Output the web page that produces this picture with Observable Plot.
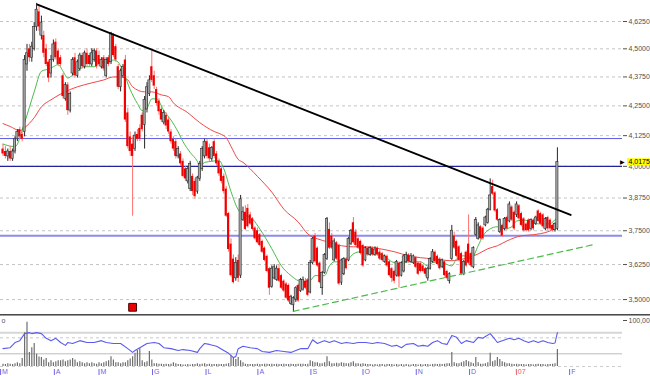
<!DOCTYPE html>
<html><head><meta charset="utf-8">
<script src="https://cdn.jsdelivr.net/npm/d3@7"></script>
<script src="https://cdn.jsdelivr.net/npm/@observablehq/plot@0.6"></script>
<style>
html,body{margin:0;padding:0;background:#fff;}
#chart{position:relative;width:650px;height:376px;overflow:hidden;font-family:"Liberation Sans",Arial,sans-serif;background:#fff;}
#chart svg{display:block;}
.sep{height:2px;width:650px;border-top:1px solid #4a4a4a;background:#9a9a9a;box-sizing:border-box;}
</style></head><body><div id="chart"></div><script>
// ---- daily candles (bar index 0..231) ----
const open = [4.07,4.06,4.04,4.06,4.03,4.06,4.11,4.15,4.13,4.14,
4.43,4.50,4.46,4.50,4.60,4.67,4.56,4.56,4.50,4.44,
4.39,4.45,4.53,4.49,4.46,4.38,4.28,4.34,4.23,4.39,
4.46,4.38,4.41,4.47,4.42,4.48,4.47,4.43,4.45,4.49,
4.47,4.42,4.46,4.38,4.46,4.44,4.56,4.51,4.42,4.33,
4.38,4.45,4.22,4.12,4.09,4.07,4.13,4.155,4.21,4.17,
4.235,4.30,4.42,4.38,4.32,4.27,4.235,4.18,4.21,4.19,
4.14,4.11,4.10,4.04,4.05,4.02,3.99,3.94,3.91,3.96,
3.94,3.90,3.95,3.99,4.04,4.10,4.075,4.03,4.10,4.05,
4.02,3.99,3.96,3.91,3.815,3.70,3.645,3.575,3.64,3.585,
3.79,3.82,3.835,3.81,3.795,3.76,3.75,3.735,3.71,3.685,
3.655,3.61,3.545,3.575,3.57,3.61,3.585,3.565,3.555,3.55,
3.485,3.48,3.50,3.55,3.53,3.535,3.565,3.57,3.525,3.63,
3.73,3.685,3.63,3.54,3.595,3.645,3.755,3.73,3.64,3.705,
3.695,3.56,3.59,3.645,3.64,3.70,3.78,3.745,3.72,3.71,
3.695,3.64,3.685,3.66,3.685,3.66,3.685,3.67,3.665,3.635,
3.655,3.635,3.61,3.60,3.585,3.63,3.585,3.60,3.635,3.66,
3.635,3.63,3.65,3.63,3.628,3.62,3.61,3.575,3.61,3.635,
3.67,3.655,3.645,3.617,3.635,3.60,3.565,3.645,3.73,3.71,
3.69,3.665,3.59,3.67,3.70,3.665,3.615,3.735,3.72,3.765,
3.76,3.77,3.78,3.83,3.92,3.895,3.83,3.745,3.77,3.757,
3.80,3.785,3.84,3.82,3.81,3.845,3.815,3.795,3.775,3.79,
3.757,3.79,3.775,3.825,3.815,3.81,3.757,3.80,3.79,3.77,
3.752,3.757];
const high = [4.09,4.08,4.07,4.08,4.07,4.12,4.15,4.16,4.14,4.47,
4.52,4.52,4.53,4.62,4.71,4.70,4.65,4.58,4.52,4.45,
4.47,4.54,4.545,4.50,4.47,4.39,4.35,4.35,4.31,4.46,
4.48,4.45,4.48,4.48,4.49,4.50,4.48,4.50,4.50,4.50,
4.49,4.46,4.47,4.46,4.47,4.575,4.57,4.52,4.43,4.41,
4.43,4.47,4.24,4.14,4.12,4.14,4.15,4.17,4.22,4.29,
4.35,4.38,4.49,4.40,4.33,4.28,4.25,4.23,4.22,4.20,
4.15,4.12,4.11,4.08,4.06,4.03,4.00,4.00,4.02,3.97,
3.95,3.96,4.02,4.08,4.11,4.11,4.09,4.08,4.11,4.06,
4.03,4.00,3.97,3.92,3.82,3.72,3.66,3.65,3.66,3.885,
3.84,3.845,3.85,3.82,3.80,3.765,3.76,3.74,3.715,3.69,
3.66,3.615,3.62,3.625,3.62,3.625,3.59,3.57,3.56,3.555,
3.515,3.51,3.545,3.555,3.575,3.58,3.575,3.575,3.64,3.725,
3.74,3.69,3.635,3.60,3.665,3.80,3.78,3.74,3.72,3.71,
3.70,3.645,3.65,3.65,3.725,3.755,3.80,3.755,3.725,3.715,
3.70,3.69,3.69,3.69,3.69,3.69,3.69,3.68,3.67,3.66,
3.66,3.64,3.615,3.605,3.64,3.635,3.635,3.66,3.67,3.665,
3.665,3.66,3.655,3.635,3.635,3.625,3.615,3.615,3.65,3.68,
3.675,3.66,3.65,3.645,3.64,3.605,3.595,3.77,3.745,3.715,
3.695,3.67,3.64,3.675,3.81,3.67,3.69,3.80,3.78,3.77,
3.765,3.805,3.835,3.95,3.945,3.90,3.835,3.795,3.775,3.80,
3.805,3.86,3.845,3.825,3.86,3.85,3.82,3.80,3.78,3.795,
3.795,3.795,3.805,3.83,3.82,3.815,3.80,3.805,3.795,3.775,
3.78,4.075];
const low = [4.04,4.03,4.02,4.02,4.02,4.05,4.10,4.11,4.10,4.12,
4.40,4.44,4.44,4.49,4.58,4.58,4.54,4.46,4.42,4.35,
4.37,4.44,4.45,4.42,4.42,4.28,4.27,4.21,4.22,4.38,
4.37,4.37,4.40,4.41,4.41,4.42,4.42,4.42,4.44,4.41,
4.42,4.41,4.40,4.37,4.42,4.43,4.46,4.44,4.32,4.31,
4.37,4.18,4.07,4.04,3.805,4.06,4.10,4.10,4.14,4.07,
4.22,4.29,4.35,4.32,4.25,4.21,4.18,4.17,4.15,4.13,
4.09,4.06,4.03,4.03,4.00,3.955,3.94,3.93,3.90,3.885,
3.87,3.89,3.94,3.98,4.03,4.03,4.02,4.02,4.03,4.00,
3.96,3.93,3.89,3.80,3.67,3.58,3.555,3.565,3.56,3.575,
3.785,3.75,3.76,3.77,3.75,3.715,3.70,3.69,3.665,3.635,
3.595,3.515,3.54,3.57,3.565,3.56,3.535,3.525,3.50,3.49,
3.48,3.455,3.49,3.49,3.525,3.53,3.535,3.51,3.52,3.625,
3.63,3.615,3.555,3.515,3.59,3.64,3.68,3.68,3.635,3.64,
3.55,3.55,3.585,3.605,3.635,3.695,3.70,3.69,3.68,3.66,
3.615,3.635,3.655,3.655,3.655,3.655,3.655,3.64,3.635,3.63,
3.615,3.58,3.56,3.556,3.58,3.54,3.58,3.595,3.63,3.63,
3.63,3.625,3.61,3.585,3.595,3.595,3.58,3.565,3.605,3.63,
3.63,3.62,3.605,3.61,3.58,3.57,3.555,3.64,3.68,3.65,
3.635,3.585,3.585,3.615,3.625,3.615,3.61,3.73,3.715,3.715,
3.715,3.765,3.775,3.825,3.885,3.82,3.785,3.74,3.725,3.75,
3.75,3.78,3.785,3.75,3.80,3.79,3.765,3.745,3.745,3.745,
3.75,3.75,3.77,3.78,3.77,3.76,3.75,3.75,3.75,3.745,
3.745,3.75];
const close = [4.05,4.04,4.06,4.03,4.06,4.11,4.14,4.12,4.11,4.45,
4.48,4.46,4.51,4.60,4.68,4.60,4.62,4.48,4.43,4.37,
4.45,4.52,4.46,4.43,4.43,4.29,4.34,4.23,4.30,4.45,
4.38,4.44,4.47,4.42,4.48,4.43,4.43,4.48,4.49,4.42,
4.43,4.45,4.41,4.45,4.43,4.57,4.47,4.45,4.33,4.40,
4.42,4.19,4.08,4.06,4.04,4.125,4.11,4.11,4.15,4.275,
4.33,4.36,4.36,4.335,4.26,4.225,4.19,4.22,4.165,4.14,
4.10,4.07,4.04,4.07,4.01,3.96,3.95,3.99,4.01,3.90,
3.88,3.955,4.01,4.07,4.10,4.04,4.03,4.075,4.04,4.01,
3.97,3.94,3.90,3.805,3.68,3.585,3.56,3.63,3.575,3.87,
3.82,3.755,3.765,3.775,3.755,3.72,3.705,3.695,3.67,3.64,
3.60,3.54,3.61,3.615,3.61,3.565,3.54,3.53,3.505,3.495,
3.51,3.505,3.54,3.495,3.57,3.57,3.54,3.515,3.63,3.72,
3.635,3.62,3.56,3.595,3.66,3.795,3.685,3.685,3.71,3.645,
3.555,3.64,3.645,3.61,3.72,3.75,3.705,3.695,3.685,3.665,
3.62,3.685,3.66,3.685,3.66,3.68,3.66,3.645,3.64,3.655,
3.62,3.585,3.575,3.565,3.635,3.58,3.63,3.655,3.66,3.635,
3.655,3.655,3.615,3.59,3.60,3.60,3.59,3.61,3.645,3.67,
3.635,3.625,3.61,3.64,3.585,3.575,3.59,3.75,3.685,3.655,
3.64,3.59,3.635,3.62,3.63,3.62,3.685,3.79,3.77,3.72,
3.72,3.80,3.83,3.885,3.89,3.825,3.79,3.79,3.73,3.795,
3.757,3.85,3.79,3.757,3.85,3.795,3.77,3.75,3.75,3.75,
3.79,3.757,3.80,3.785,3.775,3.765,3.795,3.757,3.757,3.752,
3.775,4.0175];
// volume (relative units, same panel scale as the oscillator)
const volume = [5,4,6,5,4,6,8,6,17,72,94,30,40,49,26,20,19,14,17,8,
12,8,10,12,12,14,10,12,14,17,14,8,10,8,6,8,6,8,6,5,
8,6,8,10,12,21,14,8,8,6,8,8,12,16,21,28,34,38,12,8,
10,32,14,6,6,5,5,4,5,4,5,8,6,4,4,3,3,4,3,4,
4,6,4,5,6,4,5,4,4,4,4,4,4,5,6,23,19,15,19,12,
8,5,4,4,4,4,5,4,4,5,5,4,5,4,5,4,4,5,4,4,
5,4,4,5,5,5,4,5,12,10,8,8,6,6,8,21,10,6,6,7,
6,8,7,6,6,8,10,6,6,5,6,5,4,4,3,4,3,4,4,3,
4,4,4,3,4,3,4,3,4,3,3,4,4,3,4,3,4,4,3,4,
5,4,5,4,5,6,6,30,8,6,6,8,10,13,10,8,6,19,8,5,
5,6,8,28,10,12,19,15,10,8,6,6,5,4,5,4,4,4,3,4,
4,3,4,5,4,4,3,4,4,5,6,36];
// moving averages (bar index, price)
const maFastIdx = [0,5,9,13,16,19,21,23,25,27,28,31,34,38,41,44,46,48,50,53,56,58,60,62,64,67,70,73,75,78,81,82,84,87,90,92,95,98,100,104,107,112,116,120,123,125,128,130,134,136,138,141,144,146,149,152,156,159,162,166,169,171,174,177,179,182,187,189,192,195,198,200,203,206,209,212,214,217,220,223,225,228,229,231];
const maFastVal = [4.09,4.08,4.18,4.31,4.40,4.41,4.42,4.43,4.40,4.37,4.375,4.40,4.42,4.42,4.44,4.44,4.45,4.44,4.40,4.32,4.26,4.23,4.24,4.28,4.28,4.23,4.19,4.14,4.10,4.056,4.02,4.00,4.016,4.02,4.024,3.99,3.90,3.83,3.813,3.794,3.757,3.683,3.62,3.585,3.567,3.563,3.567,3.585,3.585,3.62,3.635,3.635,3.646,3.664,3.672,3.664,3.664,3.657,3.635,3.628,3.635,3.635,3.635,3.62,3.632,3.635,3.62,3.646,3.657,3.646,3.694,3.731,3.757,3.765,3.757,3.765,3.787,3.79,3.783,3.776,3.776,3.776,3.783,3.80];
const maSlowIdx = [0,3,7,9,13,16,20,25,31,37,42,46,49,52,54,59,62,66,69,71,77,82,88,91,93,95,98,100,106,112,117,123,127,131,135,141,146,152,157,163,169,174,179,187,192,198,202,206,210,216,221,227,230];
const maSlowVal = [4.175,4.163,4.146,4.158,4.20,4.246,4.276,4.306,4.332,4.349,4.362,4.375,4.375,4.362,4.332,4.31,4.31,4.297,4.289,4.263,4.221,4.179,4.142,4.130,4.117,4.081,4.028,4.016,3.96,3.898,3.832,3.783,3.738,3.72,3.709,3.694,3.69,3.69,3.683,3.672,3.657,3.65,3.646,3.639,3.646,3.664,3.683,3.694,3.712,3.731,3.735,3.746,3.757];
// oscillator (bar index, 0-100)
const oscIdx = [0,3,5,7,9,11,12,14,16,18,20,22,24,26,27,29,32,35,38,41,43,46,49,52,54,55,57,60,63,65,67,70,73,75,78,81,82,84,86,89,92,94,96,97,98,100,103,106,108,111,114,117,120,122,124,127,129,131,133,134,136,138,141,143,146,148,151,154,156,159,162,164,166,168,171,173,175,177,179,181,183,185,187,189,191,193,196,198,200,201,203,204,206,208,211,213,215,217,219,221,223,225,227,229,230,231];
const oscVal = [38,40,51,55,70,72,70,72,70,60,55,60,51,45,51,49,55,51,51,55,51,49,49,38,30,34,40,49,51,49,40,38,34,36,34,30,38,49,47,43,34,28,19,21,38,43,40,38,32,30,34,32,30,34,38,38,57,49,53,55,51,55,49,51,49,51,51,49,51,49,43,45,40,47,49,43,45,43,51,55,49,47,66,62,49,55,51,62,60,64,70,64,51,55,60,57,60,55,51,55,51,55,51,49,50,72];
const oscLevels = [71.7, 61, 27];
// drawn lines: resistance trendline and support line (bar index, price)
const trendIdx = [14.4, 236.5], trendVal = [4.704, 3.81];
const supportIdx = [121.0, 246.0], supportVal = [3.459, 3.698];
// horizontal levels
const levels = [4.113, 4.0, 3.731];
const markerIdx = [54], markerVal = [3.473];
// axis
const yTicks = [3.5, 3.625, 3.75, 3.875, 4.0, 4.125, 4.25, 4.375, 4.5, 4.625];
const monthIdx = [-1, 21.4, 40, 62.3, 84.6, 106.2, 128.3, 150, 172.2, 194.4, 213.9, 236.1];
const monthLab = ["M","A","M","G","L","A","S","O","N","D","07","F"];

const FONT = '"Liberation Sans", Arial, sans-serif';
const xDomain = [-2.5/2.4, (622-2.5)/2.4];
const fmt = d => d.toFixed(4).replace(".", ",");
const bars = close.map((c, i) => ({i, o: open[i], h: high[i], l: low[i], c}));
const up = bars.filter(d => d.c >= d.o), down = bars.filter(d => d.c < d.o);
const last = bars[bars.length - 1];
const lastLabel = fmt(last.c);
const isYear = k => /^\d+$/.test(monthLab[k]);
const monthTicks = monthIdx.filter((d, k) => !isYear(k));
const yearTicks = monthIdx.filter((d, k) => isYear(k));
const labelOf = d => monthLab[monthIdx.indexOf(d)];

const price = Plot.plot({
  width: 650, height: 314, marginTop: 0, marginBottom: 0, marginLeft: 0, marginRight: 28,
  x: {domain: xDomain, axis: null},
  y: {type: "log", domain: [3.448, 4.7234], axis: null},
  style: {fontFamily: FONT, fontSize: "7px", background: "white", overflow: "visible"},
  marks: [
    Plot.ruleY(yTicks, {stroke: "#c4c4c4", strokeDasharray: "3,3"}),
    Plot.ruleY([levels[0]], {stroke: "#5c5ce0", strokeWidth: 1}),
    Plot.ruleY([levels[1]], {stroke: "#22229c", strokeWidth: 1.2}),
    Plot.ruleY([levels[2]], {stroke: "#8c8cf0", strokeWidth: 2}),
    Plot.line(maSlowVal, {x: maSlowIdx, y: maSlowVal, stroke: "#f04848", strokeWidth: 1, curve: "monotone-x"}),
    Plot.line(maFastVal, {x: maFastIdx, y: maFastVal, stroke: "#4cba4c", strokeWidth: 1, curve: "monotone-x"}),
    Plot.ruleX(down, {x: "i", y1: "l", y2: "h", stroke: "#ff7070", strokeWidth: 1}),
    Plot.ruleX(up, {x: "i", y1: "l", y2: "h", stroke: "#262626", strokeWidth: 1}),
    Plot.rect(down, {x1: d => d.i - 0.45, x2: d => d.i + 0.45, y1: "o", y2: "c", fill: "#f20000"}),
    Plot.rect(up, {x1: d => d.i - 0.45, x2: d => d.i + 0.45, y1: "o", y2: "c", fill: "#a8a8a8", stroke: "#2a2a2a", strokeWidth: 0.6}),
    Plot.line(supportVal, {x: supportIdx, y: supportVal, stroke: "#4cbb4c", strokeWidth: 1.2, strokeDasharray: "6,4"}),
    Plot.line(trendVal, {x: trendIdx, y: trendVal, stroke: "#000", strokeWidth: 2}),
    Plot.dot(markerVal, {x: markerIdx, y: markerVal, symbol: "square", r: 4.4, fill: "#ee0000", stroke: "#4a0000", strokeWidth: 1}),
    Plot.axisY(yTicks, {anchor: "right", tickFormat: fmt, tickSize: 4, tickPadding: 2, fontSize: 7, color: "#505050", label: null}),
    Plot.text([last], {y: "c", frameAnchor: "right", text: () => "\u25B6", dx: 0, fontSize: 6, fill: "#000", textAnchor: "middle"}),
    Plot.text([last], {y: "c", frameAnchor: "right", text: () => lastLabel, dx: 6, dy: 0, fontSize: 7, fill: "#000", textAnchor: "start"})
  ]
});

const lower = Plot.plot({
  width: 650, height: 60, marginTop: 3, marginBottom: 10, marginLeft: 0, marginRight: 28,
  x: {domain: xDomain, axis: null},
  y: {domain: [0, 100], axis: null},
  style: {fontFamily: FONT, fontSize: "7px", background: "white", overflow: "visible"},
  marks: [
    Plot.ruleY([oscLevels[0]], {stroke: "#d6d6d6", strokeWidth: 2}),
    Plot.ruleY([oscLevels[1]], {stroke: "#c8c8c8", strokeDasharray: "3,3"}),
    Plot.ruleY([oscLevels[2]], {stroke: "#bdbdbd"}),
    Plot.ruleY([0], {stroke: "#cccccc", strokeDasharray: "3,3"}),
    Plot.ruleX(volume, {x: (d, i) => i, y1: 0, y2: d => d, stroke: "#6e6e6e", strokeWidth: 1.2}),
    Plot.line(oscVal, {x: oscIdx, y: oscVal, stroke: "#5a5af0", strokeWidth: 1.1}),
    Plot.axisY([100], {anchor: "right", tickFormat: d => d.toFixed(2).replace(".", ","), tickSize: 4, tickPadding: 2, fontSize: 7, color: "#505050", dy: 1, label: null}),
    Plot.text(["o"], {frameAnchor: "top-left", text: d => d, dx: 1, dy: -1, textAnchor: "start", lineAnchor: "top", fontSize: 7, fill: "#555"}),
    Plot.axisX(monthTicks, {anchor: "bottom", tickSize: 6, tickFormat: () => "", color: "#6a6ae0", dy: 3, label: null}),
    Plot.axisX(yearTicks, {anchor: "bottom", tickSize: 6, tickFormat: () => "", color: "#e06060", dy: 3, label: null}),
    Plot.text(monthTicks, {x: d => d, frameAnchor: "bottom", text: labelOf, dx: 1.5, dy: 3, textAnchor: "start", lineAnchor: "top", fontSize: 7, fill: "#6a6ae0"}),
    Plot.text(yearTicks, {x: d => d, frameAnchor: "bottom", text: labelOf, dx: 1.5, dy: 3, textAnchor: "start", lineAnchor: "top", fontSize: 7, fill: "#e06060"})
  ]
});

const root = document.getElementById("chart");
root.appendChild(price);
const sep = document.createElement("div"); sep.className = "sep"; root.appendChild(sep);
root.appendChild(lower);

// yellow background behind the last-price label
d3.select(price).selectAll("text").filter(function () { return this.textContent === lastLabel; }).each(function () {
  const b = this.getBBox();
  const r = document.createElementNS("http://www.w3.org/2000/svg", "rect");
  r.setAttribute("x", b.x - 1.5); r.setAttribute("y", b.y);
  r.setAttribute("width", b.width + 4); r.setAttribute("height", b.height);
  r.setAttribute("fill", "#ffff00");
  const t = this.getAttribute("transform"); if (t) r.setAttribute("transform", t);
  this.parentNode.insertBefore(r, this);
});
</script></body></html>
